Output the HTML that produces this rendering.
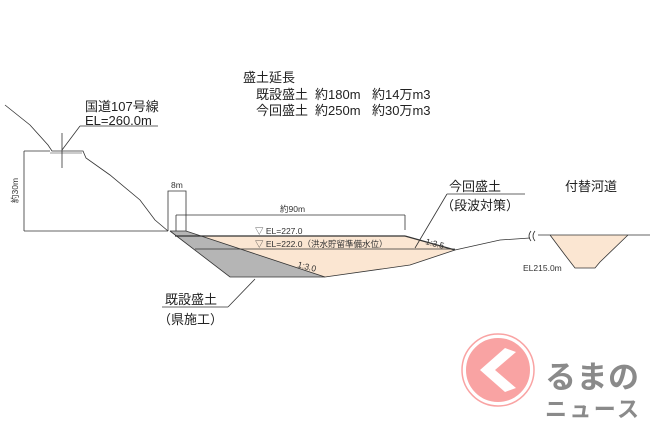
<!DOCTYPE html>
<html><head><meta charset="utf-8"><style>
html,body{margin:0;padding:0;background:#fff;}
svg{display:block;font-family:"Liberation Sans","Noto Sans CJK JP",sans-serif;}
</style></head><body>
<svg width="650" height="433" viewBox="0 0 650 433" xmlns="http://www.w3.org/2000/svg">
<rect width="650" height="433" fill="#fff"/>
<polygon points="178,236 405,236 455,250 410,265 325,277 260,256" fill="#fbe6d2"/>
<polygon points="170,231 186,231 325,277 230,277" fill="#b5b5b5"/>
<polygon points="550,235 628,235 600,262 595,268 575,268 565,255" fill="#fbe6d2"/>
<g stroke="#333" fill="none" stroke-width="0.8">
<polyline points="5,105 30,125 48,145 52,151 83,151 86,158 110,175 140,200 155,220 168,231"/>
<line x1="50" y1="153" x2="82" y2="153" stroke-width="0.6"/>
<line x1="62" y1="133" x2="62" y2="168"/>
<line x1="80" y1="126" x2="158" y2="126"/>
<line x1="80" y1="126" x2="62" y2="150"/>
<line x1="24" y1="151" x2="24" y2="231"/>
<line x1="24" y1="151" x2="50" y2="151"/>
<line x1="24" y1="231" x2="168" y2="231"/>
<polyline points="168,231 168,191 186,191 186,231"/>
<line x1="176" y1="215" x2="405" y2="215"/>
<line x1="176" y1="215" x2="176" y2="231"/>
<line x1="405" y1="215" x2="405" y2="230"/>
<line x1="175" y1="236" x2="405" y2="236" stroke-width="1.3"/>
<line x1="405" y1="236" x2="455" y2="250" stroke-width="1.3"/>
<line x1="195" y1="249" x2="455" y2="249"/>
<polyline points="170,231 186,231 325,277"/>
<polyline points="170,231 230,277 325,277 410,265 455,250 500,240 530,238"/>
<path d="M531,231 q-4,5 0,10 M535,231 q-4,5 0,10"/>
<polyline points="538,235 650,235"/>
<polyline points="550,235 565,255 575,268 595,268 600,262 628,235"/>
<line x1="447" y1="194" x2="525" y2="194"/>
<line x1="447" y1="194" x2="415" y2="248"/>
<line x1="162" y1="307" x2="228" y2="307"/>
<line x1="228" y1="307" x2="255" y2="279"/>
</g>
<g fill="#222" font-size="13">
<text x="243" y="82">盛土延長</text>
<text x="256" y="99">既設盛土</text><text x="315" y="99">約180m</text><text x="372" y="99">約14万m3</text>
<text x="256" y="115">今回盛土</text><text x="315" y="115">約250m</text><text x="372" y="115">約30万m3</text>
<text x="85" y="111">国道107号線</text>
<text x="85" y="125">EL=260.0m</text>
<text x="449" y="191">今回盛土</text>
<text x="441" y="210">（段波対策）</text>
<text x="565" y="191">付替河道</text>
<text x="165" y="304">既設盛土</text>
<text x="158" y="324">（県施工）</text>
</g>
<g fill="#333" font-size="8.5">
<text x="171" y="188">8m</text>
<text x="280" y="212">約90m</text>
<text x="255" y="234">▽ EL=227.0</text>
<text x="255" y="247">▽ EL=222.0（洪水貯留準備水位）</text>
<text x="297" y="267" transform="rotate(15 297 267)">1:3.0</text>
<text x="425" y="244" transform="rotate(15 425 244)">1:3.5</text>
<text x="523" y="271">EL215.0m</text>
<text x="18" y="203" transform="rotate(-90 18 203)">約30m</text>
</g>
<circle cx="498" cy="370" r="33" fill="#f9a3a3" stroke="#fff" stroke-width="2"/>
<circle cx="498" cy="370" r="36" fill="none" stroke="#f9a3a3" stroke-width="1.5"/>
<polygon points="480,370 505,348 516,352 495,370 516,388 505,392" fill="#fff"/>
<text x="545" y="388" font-size="31" font-weight="bold" fill="#8a8a8a" textLength="94">るまの</text>
<text x="545" y="417" font-size="22" font-weight="bold" fill="#8a8a8a" textLength="94">ニュース</text>
</svg>
</body></html>
